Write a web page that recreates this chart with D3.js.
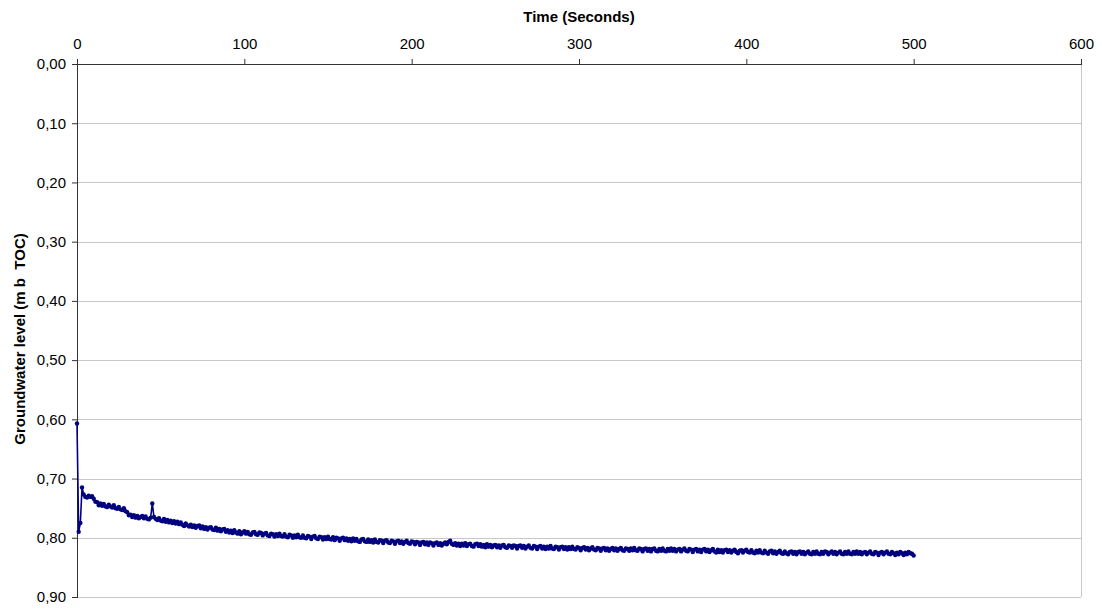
<!DOCTYPE html>
<html>
<head>
<meta charset="utf-8">
<script src="https://cdn.jsdelivr.net/npm/d3@7"></script>
<style>
  html, body { margin: 0; padding: 0; background: #fff; }
  svg { display: block; font-family: "Liberation Sans", Arial, sans-serif; }
</style>
</head>
<body>
<svg id="chart" width="1102" height="612"></svg>
<script>
// Slug test record: groundwater level below top of casing, logged every second
const timeStart = 0;
const timeStep = 1;
const levels = [
  0.607, 0.790, 0.775, 0.715, 0.727, 0.731, 0.732, 0.729, 0.731, 0.730,
  0.734, 0.739, 0.740, 0.745, 0.742, 0.746, 0.743, 0.747, 0.748, 0.744,
  0.747, 0.749, 0.745, 0.750, 0.751, 0.748, 0.752, 0.753, 0.750, 0.755,
  0.757, 0.762, 0.761, 0.765, 0.762, 0.766, 0.763, 0.767, 0.765, 0.763,
  0.767, 0.764, 0.768, 0.769, 0.766, 0.742, 0.765, 0.768, 0.770, 0.767,
  0.771, 0.772, 0.768, 0.773, 0.770, 0.774, 0.771, 0.775, 0.772, 0.776,
  0.773, 0.777, 0.774, 0.778, 0.780, 0.776, 0.779, 0.781, 0.778, 0.782,
  0.779, 0.783, 0.780, 0.779, 0.784, 0.781, 0.785, 0.782, 0.786, 0.783,
  0.782, 0.786, 0.787, 0.783, 0.788, 0.785, 0.789, 0.786, 0.785, 0.790,
  0.787, 0.791, 0.788, 0.792, 0.787, 0.791, 0.793, 0.789, 0.794, 0.791,
  0.789, 0.793, 0.790, 0.794, 0.795, 0.791, 0.790, 0.794, 0.795, 0.791,
  0.792, 0.796, 0.793, 0.792, 0.796, 0.797, 0.793, 0.794, 0.798, 0.794,
  0.797, 0.793, 0.797, 0.798, 0.794, 0.798, 0.799, 0.795, 0.796, 0.800,
  0.796, 0.799, 0.795, 0.799, 0.800, 0.796, 0.800, 0.801, 0.797, 0.798,
  0.802, 0.798, 0.797, 0.801, 0.802, 0.798, 0.799, 0.803, 0.799, 0.802,
  0.798, 0.802, 0.803, 0.799, 0.804, 0.800, 0.801, 0.805, 0.801, 0.800,
  0.804, 0.801, 0.805, 0.802, 0.806, 0.801, 0.805, 0.802, 0.806, 0.807,
  0.803, 0.802, 0.806, 0.807, 0.803, 0.807, 0.804, 0.808, 0.803, 0.807,
  0.808, 0.804, 0.805, 0.809, 0.805, 0.804, 0.808, 0.809, 0.805, 0.806,
  0.810, 0.806, 0.805, 0.809, 0.806, 0.810, 0.807, 0.805, 0.809, 0.810,
  0.806, 0.807, 0.811, 0.807, 0.808, 0.812, 0.808, 0.807, 0.811, 0.808,
  0.812, 0.808, 0.809, 0.813, 0.809, 0.808, 0.812, 0.809, 0.813, 0.810,
  0.808, 0.811, 0.807, 0.805, 0.810, 0.812, 0.809, 0.813, 0.810, 0.814,
  0.810, 0.813, 0.809, 0.814, 0.811, 0.810, 0.814, 0.815, 0.811, 0.810,
  0.814, 0.811, 0.815, 0.812, 0.816, 0.811, 0.815, 0.812, 0.816, 0.813,
  0.812, 0.816, 0.813, 0.817, 0.813, 0.812, 0.816, 0.817, 0.813, 0.814,
  0.817, 0.813, 0.814, 0.818, 0.814, 0.813, 0.817, 0.814, 0.818, 0.815,
  0.813, 0.817, 0.818, 0.814, 0.815, 0.819, 0.815, 0.814, 0.818, 0.815,
  0.819, 0.815, 0.818, 0.814, 0.818, 0.819, 0.815, 0.816, 0.820, 0.816,
  0.815, 0.819, 0.816, 0.820, 0.816, 0.819, 0.815, 0.819, 0.820, 0.816,
  0.817, 0.821, 0.817, 0.816, 0.820, 0.817, 0.821, 0.818, 0.816, 0.820,
  0.821, 0.817, 0.818, 0.822, 0.818, 0.817, 0.821, 0.818, 0.822, 0.819,
  0.817, 0.821, 0.818, 0.822, 0.819, 0.817, 0.821, 0.822, 0.818, 0.819,
  0.822, 0.818, 0.821, 0.817, 0.821, 0.822, 0.818, 0.819, 0.823, 0.819,
  0.818, 0.822, 0.819, 0.823, 0.819, 0.818, 0.822, 0.823, 0.819, 0.822,
  0.818, 0.822, 0.823, 0.819, 0.822, 0.818, 0.822, 0.819, 0.823, 0.820,
  0.819, 0.823, 0.820, 0.818, 0.822, 0.823, 0.819, 0.820, 0.824, 0.820,
  0.819, 0.823, 0.820, 0.824, 0.820, 0.819, 0.823, 0.820, 0.824, 0.821,
  0.819, 0.823, 0.825, 0.820, 0.824, 0.821, 0.825, 0.821, 0.820, 0.824,
  0.821, 0.825, 0.822, 0.820, 0.824, 0.826, 0.822, 0.821, 0.825, 0.822,
  0.820, 0.824, 0.825, 0.821, 0.825, 0.826, 0.822, 0.825, 0.821, 0.825,
  0.826, 0.822, 0.825, 0.827, 0.823, 0.822, 0.826, 0.823, 0.827, 0.824,
  0.822, 0.826, 0.827, 0.823, 0.826, 0.828, 0.824, 0.823, 0.827, 0.824,
  0.828, 0.824, 0.823, 0.827, 0.824, 0.828, 0.825, 0.823, 0.827, 0.828,
  0.824, 0.827, 0.823, 0.827, 0.828, 0.824, 0.827, 0.823, 0.824, 0.828,
  0.825, 0.823, 0.827, 0.824, 0.828, 0.825, 0.823, 0.827, 0.828, 0.824,
  0.827, 0.823, 0.827, 0.828, 0.824, 0.827, 0.823, 0.827, 0.824, 0.828,
  0.825, 0.824, 0.828, 0.825, 0.823, 0.827, 0.828, 0.824, 0.825, 0.829,
  0.825, 0.824, 0.828, 0.825, 0.823, 0.827, 0.828, 0.824, 0.826, 0.829,
  0.825, 0.828, 0.824, 0.826, 0.829, 0.825, 0.828, 0.824, 0.826, 0.827,
  0.830
];
const xTicks = [0, 100, 200, 300, 400, 500, 600];
const yTicks = [0.0, 0.1, 0.2, 0.3, 0.4, 0.5, 0.6, 0.7, 0.8, 0.9];
const xTitle = "Time (Seconds)";
const yTitle = "Groundwater level (m b  TOC)";

const points = levels.map((v, i) => ({ t: timeStart + i * timeStep, v }));

const svg = d3.select("#chart");
const plotLeft = 77, plotRight = 1081, plotTop = 64, plotBottom = 597;

const x = d3.scaleLinear().domain([0, 600]).range([plotLeft, plotRight]);
const y = d3.scaleLinear().domain([0, 0.9]).range([plotTop, plotBottom]);

const commaFmt = d3.formatLocale({ decimal: ",", thousands: ".", grouping: [3], currency: ["", ""] }).format(".2f");

// horizontal gridlines
svg.append("g")
  .selectAll("line")
  .data(yTicks.slice(1))
  .join("line")
  .attr("x1", plotLeft).attr("x2", plotRight)
  .attr("y1", d => Math.round(y(d)) + 0.5).attr("y2", d => Math.round(y(d)) + 0.5)
  .attr("stroke", "#c8c8c8").attr("stroke-width", 1);

// right frame edge
svg.append("line")
  .attr("x1", plotRight + 0.5).attr("x2", plotRight + 0.5)
  .attr("y1", plotTop).attr("y2", plotBottom)
  .attr("stroke", "#c8c8c8").attr("stroke-width", 1);

// top time axis
const xAxis = svg.append("g")
  .attr("transform", `translate(0,${plotTop})`)
  .call(d3.axisTop(x).tickValues(xTicks).tickSize(5).tickPadding(10).tickFormat(d3.format("d")));
xAxis.select(".domain").attr("stroke", "#333").attr("d", `M${plotLeft},0.5H${plotRight + 1}`);
xAxis.selectAll(".tick line").attr("stroke", "#333");
xAxis.selectAll(".tick text").attr("font-size", 15).attr("fill", "#000")
  .attr("font-family", "'Liberation Sans', Arial, sans-serif");

// left level axis
const yAxis = svg.append("g")
  .attr("transform", `translate(${plotLeft},0)`)
  .call(d3.axisLeft(y).tickValues(yTicks).tickSize(5).tickPadding(6).tickFormat(commaFmt));
yAxis.select(".domain").attr("stroke", "#333").attr("d", `M0.5,${plotTop}V${plotBottom + 1}`);
yAxis.selectAll(".tick line").attr("stroke", "#333");
yAxis.selectAll(".tick text").attr("font-size", 15).attr("fill", "#000")
  .attr("font-family", "'Liberation Sans', Arial, sans-serif");

// series line with markers
const line = d3.line().x(d => x(d.t)).y(d => y(d.v));
svg.append("path")
  .datum(points)
  .attr("d", line)
  .attr("fill", "none")
  .attr("stroke", "#000080")
  .attr("stroke-width", 1.6)
  .attr("stroke-linejoin", "round");

svg.append("g")
  .selectAll("circle")
  .data(points)
  .join("circle")
  .attr("cx", d => x(d.t))
  .attr("cy", d => y(d.v))
  .attr("r", 2.2)
  .attr("fill", "#000080");

// axis titles
svg.append("text")
  .attr("x", x(300)).attr("y", 22)
  .attr("text-anchor", "middle")
  .attr("font-size", 15).attr("font-weight", "bold")
  .text(xTitle);

svg.append("text")
  .attr("transform", `translate(25,339) rotate(-90)`)
  .attr("text-anchor", "middle")
  .attr("font-size", 15).attr("font-weight", "bold")
  .style("white-space", "pre")
  .text(yTitle);
</script>
</body>
</html>
